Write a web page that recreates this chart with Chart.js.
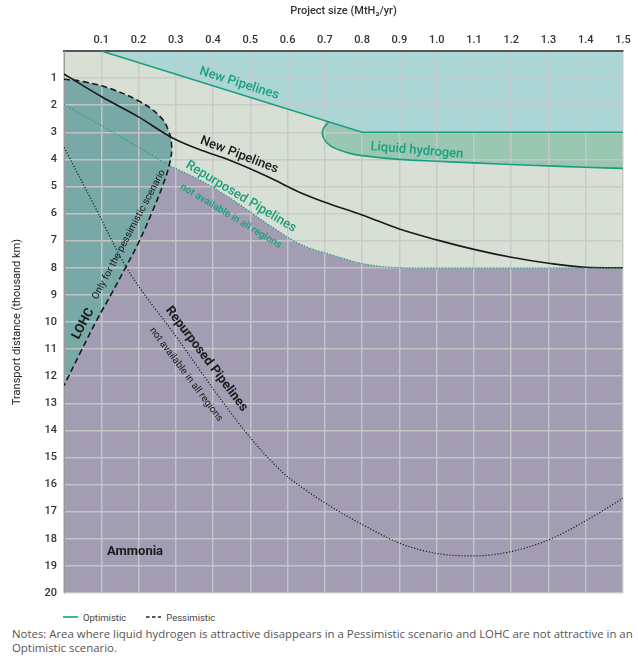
<!DOCTYPE html>
<html>
<head>
<meta charset="utf-8">
<script src="https://cdn.jsdelivr.net/npm/chart.js@4.4.1/dist/chart.umd.min.js"></script>
<style>
  html, body { margin: 0; padding: 0; background: #ffffff; }
  #wrap { position: relative; width: 638px; height: 659px; overflow: hidden; font-family: Roboto, "Open Sans", sans-serif; }
  #chart { position: absolute; left: 0; top: 0; }
  #legend { position: absolute; left: 63px; top: 611px; height: 12px; display: flex; align-items: center; font-size: 9.5px; color: #444; }
  #legend .item { display: flex; align-items: center; margin-right: 20px; }
  #legend svg { margin-right: 5px; }
  #notes { position: absolute; left: 12px; top: 627px; font-family: "Open Sans", Roboto, sans-serif; font-size: 11.4px; line-height: 14px; color: #555; white-space: nowrap; }
</style>
</head>
<body>
<div id="wrap">
  <canvas id="chart" width="638" height="610"></canvas>
  <div id="legend">
    <div class="item"><svg width="15" height="4"><line x1="0" y1="2" x2="15" y2="2" stroke="#1aa07c" stroke-width="1.6"/></svg><span>Optimistic</span></div>
    <div class="item"><svg width="15" height="4"><line x1="0" y1="2" x2="15" y2="2" stroke="#222" stroke-width="1.6" stroke-dasharray="3.5,2.5"/></svg><span>Pessimistic</span></div>
  </div>
  <div id="notes">Notes: Area where liquid hydrogen is attractive disappears in a Pessimistic scenario and LOHC are not attractive in an<br>Optimistic scenario.</div>
</div>
<script>
// ---- Tick labels ----
const xTickLabels = ['0.1','0.2','0.3','0.4','0.5','0.6','0.7','0.8','0.9','1.0','1.1','1.2','1.3','1.4','1.5'];
const yTickLabels = ['1','2','3','4','5','6','7','8','9','10','11','12','13','14','15','16','17','18','19','20'];

// ---- Boundaries: [project size (MtH2/yr), transport distance (thousand km)] ----
const plotBackground = [[0, 20], [1.5, 20]];
const newPipelinesOptimistic = [[0.1, 0], [0.8, 3.0], [1.5, 3.0]];
const liquidHydrogenBoundary = [[0.71, 2.61], [0.695, 2.9], [0.696, 3.2], [0.715, 3.5], [0.76, 3.75], [0.8, 3.86],
  [0.9, 4.0], [1.0, 4.07], [1.1, 4.13], [1.2, 4.19], [1.3, 4.24], [1.4, 4.29], [1.5, 4.33],
  [1.7, 4.4], [1.7, -1], [0.71, -1]];
const repurposedOptimistic = [[0, 1.97], [0.1, 2.75], [0.2, 3.55], [0.28, 4.2], [0.365, 4.76], [0.454, 5.5],
  [0.544, 6.36], [0.633, 7.12], [0.72, 7.53], [0.8, 7.84], [0.9, 8.0], [1.0, 8.02], [1.2, 8.02], [1.5, 8.0]];
const lohcPessimistic = [[0, 1.04], [0.052, 1.13], [0.123, 1.38], [0.204, 1.87], [0.258, 2.42], [0.28, 2.92],
  [0.289, 3.53], [0.284, 4.12], [0.267, 4.88], [0.235, 5.99], [0.199, 7.1], [0.164, 8.02], [0.128, 8.94],
  [0.088, 9.93], [0.043, 11.15], [0, 12.35]];
const newPipelinesPessimistic = [[0, 0.85], [0.1, 1.68], [0.2, 2.43], [0.29, 3.2], [0.36, 3.62], [0.45, 4.06],
  [0.55, 4.66], [0.63, 5.2], [0.7, 5.58], [0.8, 6.05], [0.9, 6.57], [1.0, 6.97], [1.1, 7.32], [1.2, 7.61],
  [1.3, 7.83], [1.4, 7.98], [1.5, 8.0]];
const repurposedPessimistic = [[0, 3.55], [0.085, 5.8], [0.168, 8.0], [0.3, 10.52], [0.41, 12.65], [0.5, 14.27],
  [0.589, 15.58], [0.633, 16.05], [0.723, 16.87], [0.803, 17.49], [0.902, 18.17], [1.0, 18.54], [1.1, 18.63],
  [1.197, 18.48], [1.304, 18.02], [1.403, 17.31], [1.5, 16.5]];

// ---- Colours ----
const C = {
  background: '#d8e0d6', cyan: '#acd5d6', lh2: '#99c7b2', lohc: '#78a9a6', ammonia: '#a39db4',
  green: '#1aa07c', black: '#1a1a1a', grid: 'rgba(200,200,200,0.9)'
};

const pts = a => a.map(p => ({ x: p[0], y: p[1] }));

// ---- In-plot labels (anchored in data coordinates) ----
const regionLabels = [
  { text: 'New Pipelines', x: 0.47, y: 1.2, angle: 17.3, size: 13, weight: '500', color: C.green },
  { text: 'Liquid hydrogen', x: 0.947, y: 3.68, angle: 4.9, size: 13, weight: '500', color: C.green },
  { text: 'New Pipelines', x: 0.47, y: 3.84, angle: 21, size: 13, weight: '500', color: C.black },
  { text: 'Repurposed Pipelines', x: 0.4745, y: 5.38, angle: 31, size: 13, weight: '500', color: C.green },
  { text: 'not available in all regions', x: 0.4477, y: 6.1, angle: 31, size: 10, weight: '500', color: C.green },
  { text: 'LOHC', x: 0.052, y: 10.07, angle: -62, size: 13, weight: '700', color: C.black },
  { text: 'Only for the pessimistic scenario', x: 0.1743, y: 6.775, angle: -62, size: 10, weight: '400', color: C.black },
  { text: 'Repurposed Pipelines', x: 0.382, y: 11.37, angle: 53, size: 13, weight: '700', color: C.black },
  { text: 'not available in all regions', x: 0.3273, y: 11.94, angle: 53, size: 10, weight: '400', color: C.black },
  { text: 'Ammonia', x: 0.1906, y: 18.48, angle: 0, size: 13, weight: '700', color: C.black }
];

const labelPlugin = {
  id: 'regionLabels',
  afterDatasetsDraw(chart) {
    const { ctx, scales } = chart;
    regionLabels.forEach(l => {
      ctx.save();
      ctx.translate(scales.x.getPixelForValue(l.x), scales.y.getPixelForValue(l.y));
      ctx.rotate(l.angle * Math.PI / 180);
      ctx.font = l.weight + ' ' + l.size + 'px Roboto, sans-serif';
      ctx.fillStyle = l.color;
      ctx.textAlign = 'center';
      ctx.textBaseline = 'middle';
      ctx.fillText(l.text, 0, 0);
      ctx.restore();
    });
  }
};

const base = { showLine: true, pointRadius: 0, pointHoverRadius: 0 };

const datasets = [
  // index 0 is painted on top
  Object.assign({}, base, { label: 'LOHC (Pessimistic)', data: pts(lohcPessimistic), fill: 'shape',
    backgroundColor: C.lohc, borderColor: C.black, borderWidth: 1.6, borderDash: [6, 3.5], tension: 0.4 }),
  Object.assign({}, base, { label: 'Repurposed Pipelines (Optimistic)', data: pts(repurposedOptimistic), fill: { value: 20 },
    backgroundColor: C.ammonia, borderColor: C.green, borderWidth: 1.2, borderDash: [1.2, 1.8], cubicInterpolationMode: 'monotone' }),
  Object.assign({}, base, { label: 'New Pipelines (Optimistic)', data: pts(newPipelinesOptimistic), fill: { value: 0 },
    backgroundColor: C.cyan, borderColor: C.green, borderWidth: 1.6, tension: 0 }),
  Object.assign({}, base, { label: 'Liquid hydrogen (Optimistic)', data: pts(liquidHydrogenBoundary), fill: 'shape',
    backgroundColor: C.lh2, borderColor: C.green, borderWidth: 1.6, tension: 0.35 }),
  Object.assign({}, base, { label: 'background', data: pts(plotBackground), fill: { value: 0 },
    backgroundColor: C.background, borderWidth: 0, borderColor: 'rgba(0,0,0,0)', tension: 0 }),
  Object.assign({}, base, { label: 'New Pipelines (Pessimistic)', data: pts(newPipelinesPessimistic), fill: false,
    borderColor: C.black, borderWidth: 1.6, cubicInterpolationMode: 'monotone' }),
  Object.assign({}, base, { label: 'Repurposed Pipelines (Pessimistic)', data: pts(repurposedPessimistic), fill: false,
    borderColor: C.black, borderWidth: 1.2, borderDash: [1.2, 1.8], cubicInterpolationMode: 'monotone' })
];

const tickFont = { family: 'Roboto', size: 11, weight: '500' };

new Chart(document.getElementById('chart'), {
  type: 'scatter',
  data: { datasets },
  options: {
    responsive: false,
    animation: false,
    events: [],
    layout: { padding: { left: 0, right: 15, top: 0, bottom: 17 } },
    plugins: {
      legend: { display: false },
      tooltip: { enabled: false },
      filler: { drawTime: 'beforeDraw' }
    },
    scales: {
      x: {
        type: 'linear', position: 'top', min: 0, max: 1.5,
        afterBuildTicks: s => { s.ticks = [{ value: 0 }].concat(xTickLabels.map(t => ({ value: parseFloat(t) }))); },
        afterFit: s => { s.height = 51; },
        grid: { color: C.grid, lineWidth: 1.5, drawTicks: false },
        border: { display: true, color: '#555', width: 2 },
        ticks: {
          padding: 4, color: '#333', font: tickFont, autoSkip: false, maxRotation: 0,
          callback: v => { const i = xTickLabels.findIndex(t => Math.abs(parseFloat(t) - v) < 1e-6); return i >= 0 ? xTickLabels[i] : ''; }
        },
        title: { display: true, text: 'Project size (MtH₂/yr)', color: '#333', font: { family: 'Roboto', size: 11, weight: '500' }, padding: { top: 5, bottom: 0 } }
      },
      y: {
        type: 'linear', reverse: true, min: 0, max: 20,
        afterBuildTicks: s => { s.ticks = [{ value: 0 }].concat(yTickLabels.map(t => ({ value: parseFloat(t) }))); },
        afterFit: s => { s.width = 64; },
        grid: { color: C.grid, lineWidth: 1.5, drawTicks: false },
        border: { display: true, color: '#999', width: 1 },
        ticks: {
          padding: 7, color: '#333', font: tickFont, autoSkip: false,
          callback: v => { const i = yTickLabels.findIndex(t => parseFloat(t) === v); return i >= 0 ? yTickLabels[i] : ''; }
        },
        title: { display: true, text: 'Transport distance (thousand km)', color: '#222', font: { family: 'Roboto', size: 11, weight: '400' }, padding: { top: 11, bottom: 0 } }
      }
    }
  },
  plugins: [labelPlugin]
});
</script>
</body>
</html>
